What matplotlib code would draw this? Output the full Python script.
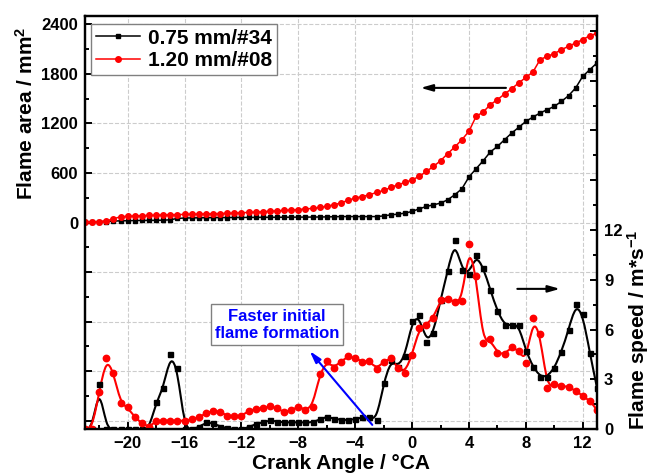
import numpy as np
import matplotlib
matplotlib.use('Agg')
import matplotlib.pyplot as plt
from matplotlib.path import Path
from matplotlib.patches import PathPatch
from matplotlib.ticker import MultipleLocator, FuncFormatter

plt.rcParams['font.family'] = ['Liberation Sans', 'DejaVu Sans']
plt.rcParams['font.weight'] = 'bold'
plt.rcParams['axes.labelweight'] = 'bold'
plt.rcParams['mathtext.fontset'] = 'custom'
plt.rcParams['mathtext.bf'] = 'Liberation Sans:bold'
plt.rcParams['mathtext.rm'] = 'Liberation Sans:bold'
plt.rcParams['mathtext.default'] = 'bf'

# crank angle, 0.5 deg steps
crank = [-23, -22.5, -22, -21.5, -21, -20.5, -20, -19.5, -19, -18.5, -18, -17.5,
         -17, -16.5, -16, -15.5, -15, -14.5, -14, -13.5, -13, -12.5, -12, -11.5,
         -11, -10.5, -10, -9.5, -9, -8.5, -8, -7.5, -7, -6.5, -6, -5.5, -5, -4.5,
         -4, -3.5, -3, -2.5, -2, -1.5, -1, -0.5, 0, 0.5, 1, 1.5, 2, 2.5, 3, 3.5,
         4, 4.5, 5, 5.5, 6, 6.5, 7, 7.5, 8, 8.5, 9, 9.5, 10, 10.5, 11, 11.5,
         12, 12.5, 13]

# flame area, mm^2
area_075 = [3, 5, 8, 12, 18, 20, 22, 24, 25, 26, 27, 28, 33, 50, 54, 56, 57, 58,
            59, 60, 60, 61, 61, 62, 62, 63, 63, 64, 64, 65, 65, 66, 66, 67, 68, 70,
            72, 72, 72, 72, 72, 72, 80, 93, 101, 114, 134, 166, 194, 214, 235, 275,
            336, 408, 552, 651, 748, 854, 921, 1002, 1083, 1152, 1224, 1277, 1326,
            1366, 1406, 1466, 1535, 1629, 1770, 1851, 1932]
area_120 = [5, 8, 12, 20, 45, 70, 75, 80, 83, 86, 89, 91, 94, 96, 98, 100, 102, 104,
            106, 109, 111, 114, 118, 122, 126, 131, 136, 141, 146, 151, 157, 164, 171,
            182, 196, 215, 237, 270, 296, 315, 336, 364, 388, 424, 457, 485, 517, 558,
            618, 679, 748, 833, 914, 1002, 1105, 1285, 1338, 1427, 1487, 1556, 1620,
            1690, 1757, 1823, 1972, 2012, 2045, 2093, 2133, 2174, 2214, 2263, 2290]

# flame speed, m/s
speed_075 = [0, 0, 2.7, 0, 0, 0, 0, 0, 0, 0, 1.6, 2.45, 4.5, 3.66, 0, 0, 0.1, 0.4,
             0.35, 0.15, 0.05, 0, 0, 0.1, 0.3, 0.4, 0.52, 0.45, 0.4, 0.4, 0.4, 0.4,
             0.4, 0.58, 0.75, 0.62, 0.56, 0.54, 0.6, 0.7, 0.7, 0.54, 2.75, 4.16, 3.76,
             4.4, 6.5, 6.85, 5.23, 5.78, 7.8, 9.5, 11.4, 9.6, 9.35, 10.5, 9.73, 8.4,
             7.1, 6.27, 6.27, 6.3, 4.7, 3.76, 3.16, 3.16, 3.66, 4.67, 5.97, 7.54,
             6.92, 4.57, 2.5]
speed_120 = [0, 0, 2.25, 4.3, 3.4, 1.55, 1.3, 0.7, 0.35, 0.1, 0.5, 0.5, 0.5, 0.5,
             0.5, 0.58, 0.7, 0.95, 1.1, 1.05, 0.78, 0.78, 0.78, 1.1, 1.2, 1.25, 1.39,
             1.25, 1.0, 1.15, 1.35, 1.15, 1.35, 3.3, 4.08, 3.7, 4.06, 4.4, 4.27, 4.06,
             4.1, 3.62, 4.06, 4.3, 3.66, 3.4, 4.47, 6.08, 6.3, 6.7, 7.8, 7.85, 7.65,
             7.7, 11.15, 9.2, 5.17, 5.41, 4.57, 4.5, 4.97, 4.72, 4.0, 6.68, 5.73, 2.45,
             2.7, 2.6, 2.55, 2.3, 2.0, 1.7, 1.15]

labels = ['0.75 mm/#34', '1.20 mm/#08']


def bspline_line(ax, x, y, color, lw):
    # cubic B-spline with the points as control polygon (like Origin's B-spline line)
    p = np.column_stack([x, y]).astype(float)
    p = np.vstack([p[:1], p[:1], p, p[-1:], p[-1:]])
    verts = [(p[0] + 4 * p[1] + p[2]) / 6]
    codes = [Path.MOVETO]
    for i in range(1, len(p) - 2):
        verts += [(2 * p[i] + p[i + 1]) / 3, (p[i] + 2 * p[i + 1]) / 3,
                  (p[i] + 4 * p[i + 1] + p[i + 2]) / 6]
        codes += [Path.CURVE4] * 3
    ax.add_patch(PathPatch(Path(verts, codes), fill=False, edgecolor=color, lw=lw,
                           zorder=2))


fig = plt.figure(figsize=(6.51, 4.74), dpi=100)
ax1 = fig.add_axes([0.1306, 0.0949, 0.7864, 0.8713])
ax2 = ax1.twinx()

l1, = ax1.plot(crank, area_075, '-s', color='black', ms=3.2, lw=1.1)
l2, = ax1.plot(crank, area_120, '-o', color='red', ms=4, lw=1.1)

bspline_line(ax2, crank, speed_075, 'black', 1.5)
bspline_line(ax2, crank, speed_120, 'red', 1.5)
ax2.plot(crank, speed_075, 's', color='black', ms=3.6)
ax2.plot(crank, speed_120, 'o', color='red', ms=4.6)

ax1.set_xlim(-23, 13)
ax1.set_ylim(-2500, 2500)
ax2.set_ylim(0, 24.9)

ax1.xaxis.set_major_locator(MultipleLocator(4))
ax1.xaxis.set_minor_locator(MultipleLocator(2))
ax1.yaxis.set_major_locator(MultipleLocator(600))
ax1.yaxis.set_minor_locator(MultipleLocator(300))
ax1.yaxis.set_major_formatter(FuncFormatter(lambda v, p: f'{v:.0f}' if v >= 0 else ''))
ax2.yaxis.set_major_locator(MultipleLocator(3))
ax2.yaxis.set_minor_locator(MultipleLocator(1.5))
ax2.yaxis.set_major_formatter(FuncFormatter(lambda v, p: f'{v:.0f}' if v <= 12 else ''))

ax1.grid(True, which='major', ls='--', color='#cccccc', lw=0.8)
ax1.set_axisbelow(True)

for ax in (ax1, ax2):
    for s in ax.spines.values():
        s.set_linewidth(1.6)
ax1.tick_params(which='both', direction='in', width=1.4, labelsize=12, top=False,
                right=False)
ax1.tick_params(which='major', length=5, pad=5)
ax1.tick_params(which='minor', length=3)
ax2.tick_params(which='both', direction='in', width=1.4, labelsize=12)
ax2.tick_params(which='major', length=5, pad=5)
ax2.tick_params(which='minor', length=3)

ax1.set_xlabel('Crank Angle / °CA', fontsize=15, fontweight='bold', labelpad=2)
ax1.set_ylabel('Flame area / mm$^2$', fontsize=15, fontweight='bold')
ax1.yaxis.set_label_coords(-0.095, 0.765)
ax2.set_ylabel('Flame speed / m*s$^{-1}$', fontsize=15, fontweight='bold', rotation=90)
ax2.yaxis.set_label_coords(1.054, 0.24)

ax1.legend([l1, l2], labels, loc='upper left', bbox_to_anchor=(0.0, 0.997),
           fontsize=15, frameon=True, fancybox=False, edgecolor='#808080',
           framealpha=1, handlelength=2.1, handletextpad=0.35, labelspacing=0.15,
           borderpad=0.25, borderaxespad=0.3, numpoints=1)

arrow = dict(arrowstyle='-|>,head_length=0.7,head_width=0.2', color='black', lw=1.5,
             shrinkA=0, shrinkB=0)
ax1.annotate('', xy=(0.6, 1630), xytext=(6.6, 1630), arrowprops=arrow)
ax2.annotate('', xy=(10.4, 8.45), xytext=(7.4, 8.45), arrowprops=arrow)
ax2.annotate('', xy=(-7.2, 4.7), xytext=(-2.8, 0.25),
             arrowprops=dict(arrow, color='blue'))
ax2.text(-9.5, 6.28, 'Faster initial\nflame formation', color='blue', fontsize=12,
         fontweight='bold', ha='center', va='center', linespacing=1.2,
         bbox=dict(boxstyle='square,pad=0.25', fc='white', ec='#808080', lw=1))

fig.savefig('out.png', dpi=100)
